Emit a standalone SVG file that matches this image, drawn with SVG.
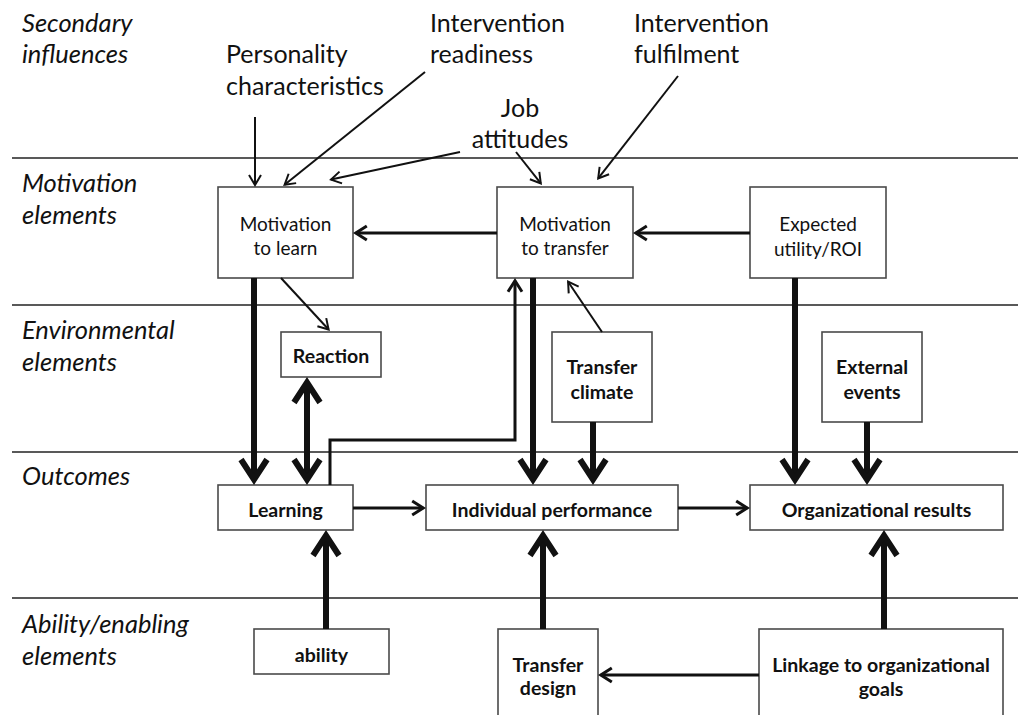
<svg xmlns="http://www.w3.org/2000/svg" width="1018" height="715" viewBox="0 0 1018 715">
  <style>
    .lane { stroke: #222; stroke-width: 1.5; }
    .box { fill: #fff; stroke: #4a4a4a; stroke-width: 1.6; }
    .side { font-family: Lato, "Liberation Sans", sans-serif; font-style: italic; font-size: 25.5px; fill: #111; }
    .top { font-family: Lato, "Liberation Sans", sans-serif; font-size: 25px; fill: #111; }
    .reg { font-family: Lato, "Liberation Sans", sans-serif; font-size: 19px; fill: #111; text-anchor: middle; }
    .bold { font-family: Lato, "Liberation Sans", sans-serif; font-weight: bold; font-size: 19.5px; fill: #111; text-anchor: middle; }
    .thin { fill: none; stroke: #111; stroke-width: 2; marker-end: url(#ah-thin); }
    .mid { fill: none; stroke: #111; stroke-width: 3; marker-end: url(#ah-mid); }
    .thick { fill: none; stroke: #111; stroke-width: 6; marker-end: url(#ah-thick); }
  </style>
  <defs>
    <marker id="ah-thin" viewBox="-14 -10 18 20" refX="0" refY="0" markerWidth="18" markerHeight="20" markerUnits="userSpaceOnUse" orient="auto">
      <path d="M-10,-6 L0,0 L-10,6" fill="none" stroke="#111" stroke-width="2"/>
    </marker>
    <marker id="ah-mid" viewBox="-15 -11 20 22" refX="0" refY="0" markerWidth="20" markerHeight="22" markerUnits="userSpaceOnUse" orient="auto">
      <path d="M-11,-7 L0,0 L-11,7" fill="none" stroke="#111" stroke-width="3"/>
    </marker>
    <marker id="ah-thick" viewBox="-26 -18 34 36" refX="0" refY="0" markerWidth="34" markerHeight="36" markerUnits="userSpaceOnUse" orient="auto-start-reverse">
      <path d="M-20,-13 L0,0 L-20,13" fill="none" stroke="#111" stroke-width="6"/>
    </marker>
  </defs>

  <rect width="1018" height="715" fill="#fff"/>

  <!-- lane separators -->
  <g id="lanes">
    <line class="lane" x1="12" y1="158" x2="1018" y2="158"/>
    <line class="lane" x1="12" y1="305" x2="1018" y2="305"/>
    <line class="lane" x1="12" y1="452" x2="1018" y2="452"/>
    <line class="lane" x1="12" y1="598" x2="1018" y2="598"/>
  </g>

  <!-- lane titles -->
  <g id="lane-titles">
    <text class="side" x="22" y="32">Secondary</text>
    <text class="side" x="22" y="63">influences</text>
    <text class="side" x="22" y="192">Motivation</text>
    <text class="side" x="22" y="224">elements</text>
    <text class="side" x="22" y="339">Environmental</text>
    <text class="side" x="22" y="371">elements</text>
    <text class="side" x="22" y="485">Outcomes</text>
    <text class="side" x="22" y="633">Ability/enabling</text>
    <text class="side" x="22" y="665">elements</text>
  </g>

  <!-- secondary influences -->
  <g id="personality">
    <text class="top" x="226" y="63">Personality</text>
    <text class="top" x="226" y="95">characteristics</text>
  </g>
  <g id="readiness">
    <text class="top" x="430" y="32">Intervention</text>
    <text class="top" x="430" y="63">readiness</text>
  </g>
  <g id="fulfilment">
    <text class="top" x="634" y="32">Intervention</text>
    <text class="top" x="634" y="63">fulfilment</text>
  </g>
  <g id="job-attitudes">
    <text class="top" x="520" y="117" text-anchor="middle">Job</text>
    <text class="top" x="520" y="148" text-anchor="middle">attitudes</text>
  </g>

  <!-- motivation elements -->
  <g id="motivation-learn">
    <rect class="box" x="218" y="187" width="135" height="91"/>
    <text class="reg" x="285.5" y="231">Motivation</text>
    <text class="reg" x="285.5" y="255">to learn</text>
  </g>
  <g id="motivation-transfer">
    <rect class="box" x="497" y="187" width="136" height="91"/>
    <text class="reg" x="565" y="231">Motivation</text>
    <text class="reg" x="565" y="255">to transfer</text>
  </g>
  <g id="expected-utility">
    <rect class="box" x="750" y="187" width="136" height="91"/>
    <text class="reg" x="818" y="231">Expected</text>
    <text class="reg" x="818" y="256">utility/ROI</text>
  </g>

  <!-- environmental elements -->
  <g id="reaction">
    <rect class="box" x="281" y="332" width="100" height="45"/>
    <text class="bold" x="331" y="363">Reaction</text>
  </g>
  <g id="transfer-climate">
    <rect class="box" x="552" y="332" width="100" height="90"/>
    <text class="bold" x="602" y="374">Transfer</text>
    <text class="bold" x="602" y="399">climate</text>
  </g>
  <g id="external-events">
    <rect class="box" x="822" y="332" width="100" height="90"/>
    <text class="bold" x="872" y="374">External</text>
    <text class="bold" x="872" y="399">events</text>
  </g>

  <!-- outcomes -->
  <g id="learning">
    <rect class="box" x="218" y="485" width="135" height="45"/>
    <text class="bold" x="285.5" y="517">Learning</text>
  </g>
  <g id="individual-performance">
    <rect class="box" x="426" y="485" width="252" height="45"/>
    <text class="bold" x="552" y="517">Individual performance</text>
  </g>
  <g id="organizational-results">
    <rect class="box" x="750" y="485" width="253" height="45"/>
    <text class="bold" x="876.5" y="517">Organizational results</text>
  </g>

  <!-- ability / enabling elements -->
  <g id="ability">
    <rect class="box" x="254" y="629" width="135" height="45"/>
    <text class="bold" x="321.5" y="662">ability</text>
  </g>
  <g id="transfer-design">
    <rect class="box" x="498" y="629" width="100" height="95"/>
    <text class="bold" x="548" y="672">Transfer</text>
    <text class="bold" x="548" y="695">design</text>
  </g>
  <g id="linkage">
    <rect class="box" x="759" y="629" width="244" height="95"/>
    <text class="bold" x="881" y="672">Linkage to organizational</text>
    <text class="bold" x="881" y="696">goals</text>
  </g>

  <!-- connectors -->
  <g id="connectors">
    <!-- secondary influences into motivation -->
    <path class="thin" d="M255,117 L255,185"/>
    <path class="thin" d="M425,72 L284.6,184.7"/>
    <path class="thin" d="M460,152 L331,179.6"/>
    <path class="thin" d="M516,152 L540.8,183.4"/>
    <path class="thin" d="M678,76 L598.2,178.4"/>

    <!-- between motivation boxes -->
    <path class="mid" d="M497,233 L355.8,233"/>
    <path class="mid" d="M750,233 L635.8,233"/>

    <!-- motivation to learn -->
    <path class="thin" d="M281,278 L328.6,329.5"/>
    <path class="thick" d="M254,278 L254,479.5"/>

    <!-- reaction and learning -->
    <path class="thick" d="M307,382.5 L307,479.5" marker-start="url(#ah-thick)"/>

    <!-- learning feeds motivation to transfer -->
    <path class="mid" d="M330,485 L330,440 L515,440 L515,280.8"/>

    <!-- motivation to transfer and climate -->
    <path class="thick" d="M533,278 L533,479.5"/>
    <path class="thin" d="M602,332 L568.1,281.7"/>
    <path class="thick" d="M593,422 L593,479.5"/>

    <!-- outcome chain -->
    <path class="mid" d="M353,508 L423.2,508"/>
    <path class="mid" d="M678,508 L747.2,508"/>

    <!-- into organizational results -->
    <path class="thick" d="M795,278 L795,479.5"/>
    <path class="thick" d="M867,422 L867,479.5"/>

    <!-- enabling elements upward -->
    <path class="thick" d="M326,629 L326,535.5"/>
    <path class="thick" d="M543,629 L543,535.5"/>
    <path class="thick" d="M884,629 L884,535.5"/>

    <!-- linkage to transfer design -->
    <path class="mid" d="M759,675 L600.8,675"/>
  </g>
</svg>
